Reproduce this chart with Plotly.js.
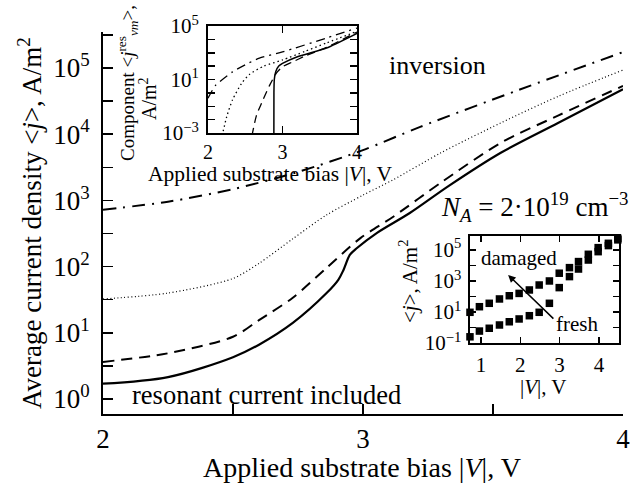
<!DOCTYPE html>
<html>
<head>
<meta charset="utf-8">
<script src="https://cdn.plot.ly/plotly-3.0.1.min.js"></script>
<style>html,body{margin:0;padding:0;background:#fff;}#chart{width:634px;height:489px;}</style>
</head>
<body>
<div id="chart"></div>
<script>
// ---------- main panel data (bias |V|, V ; current density A/m^2) ----------
const solidV   = [2.0, 2.25, 2.5, 2.6, 2.73, 2.86, 2.905, 2.925, 2.95, 2.977, 3.054, 3.18, 3.33, 3.53, 3.75, 4.0];
const solidJ   = [1.70, 2.14, 4.27, 6.61, 14.1, 39.8, 63.1, 89.1, 151, 191, 324, 646, 1660, 5250, 14800, 47900];
const dashedV  = [2.0, 2.25, 2.5, 2.6, 2.73, 2.86, 2.99, 3.115, 3.3, 3.53, 3.75, 4.0];
const dashedJ  = [3.63, 4.90, 8.71, 15.5, 33.9, 95.5, 269, 562, 1860, 7410, 19100, 53700];
const dottedV  = [2.0, 2.25, 2.5, 2.6, 2.73, 2.86, 3.0, 3.115, 3.3, 3.53, 3.75, 4.0];
const dottedJ  = [32.4, 39.8, 66.1, 112, 263, 603, 1200, 2040, 5250, 14800, 37200, 93300];
const dashdotV = [2.0, 2.25, 2.5, 2.75, 3.0, 3.22, 3.6, 4.0];
const dashdotJ = [724, 955, 1480, 2690, 5750, 12900, 46800, 174000];

// ---------- inset 1: resonant component ----------
const insSolidV   = [2.884, 2.885, 2.89, 2.91, 2.95, 3.0, 3.2, 3.59, 4.0];
const insSolidJ   = [3.16e-4, 1, 10, 39.8, 100, 158, 501, 2240, 28200];
const insDashedV  = [2.59, 2.65, 2.74, 2.83, 2.92, 3.0, 3.13, 3.3, 3.59, 4.0];
const insDashedJ  = [6.3e-4, 0.02, 0.316, 3.98, 31.6, 89.1, 200, 562, 2510, 35500];
const insDottedV  = [2.19, 2.25, 2.33, 2.45, 2.56, 2.75, 3.0, 3.3, 3.59, 4.0];
const insDottedJ  = [6.3e-4, 0.0158, 0.316, 5.01, 25.1, 100, 288, 1260, 5370, 39800];
const insDashdotV = [2.0, 2.1, 2.33, 2.5, 2.69, 3.0, 3.59, 4.0];
const insDashdotJ = [0.398, 3.55, 37.2, 126, 398, 1150, 12600, 70800];

// ---------- inset 2: measured ----------
const measV    = [0.72, 0.96, 1.21, 1.47, 1.72, 1.97, 2.23, 2.48, 2.74, 2.99, 3.25, 3.48, 3.73, 3.98, 4.24, 4.48];
const damagedJ = [9.55, 21.9, 36.3, 69.2, 112, 158, 263, 550, 1000, 3160, 7240, 17800, 52500, 141000, 269000, 562000];
const freshJ   = [0.251, 0.589, 0.891, 1.45, 2.34, 3.55, 5.75, 9.55, 36.3, 372, 1910, 5890, 22400, 77600, 191000, 447000];

// tick labels
const mainXTicks = [2, 2.5, 3, 3.5, 4];
const mainXText  = ['2', '', '3', '', '4'];
const mainYTicks = [1, 3.162, 10, 31.62, 100, 316.2, 1000, 3162, 1e4, 3.162e4, 1e5, 3.162e5];
const mainYText  = ['10<sup>0</sup>', '', '10<sup>1</sup>', '', '10<sup>2</sup>', '', '10<sup>3</sup>', '', '10<sup>4</sup>', '', '10<sup>5</sup>', ''];
const in1XTicks = [2, 3, 4];
const in1XText  = ['2', '3', '4'];
const in1YTicks = [1e-3, 1e-2, 1e-1, 1, 10, 100, 1e3, 1e4, 1e5];
const in1YText  = ['10<sup>\u22123</sup>', '', '', '', '10<sup>1</sup>', '', '', '', '10<sup>5</sup>'];
const in2XTicks = [1, 2, 3, 4];
const in2XText  = ['1', '2', '3', '4'];
const in2YTicks = [0.1, 1, 10, 100, 1e3, 1e4, 1e5];
const in2YText  = ['10<sup>\u22121</sup>', '', '10<sup>1</sup>', '', '10<sup>3</sup>', '', '10<sup>5</sup>'];

const FONT = '"Liberation Serif", "Times New Roman", serif';
const W = 634, H = 489, ML = 103, MR = 11, MT = 20, MB = 75;
const PW = W - ML - MR, PH = H - MT - MB;
const px = p => (p - ML) / PW;
const py = p => (H - MB - p) / PH;

const traces = [
  {x: dashdotV, y: dashdotJ, mode: 'lines', line: {color: '#000', width: 2, dash: '13px,7px,2px,7px', shape: 'spline', smoothing: 0.8}, xaxis: 'x', yaxis: 'y'},
  {x: dottedV, y: dottedJ, mode: 'lines', line: {color: '#000', width: 1.2, dash: '1px,2.5px', shape: 'spline', smoothing: 0.8}, xaxis: 'x', yaxis: 'y'},
  {x: dashedV, y: dashedJ, mode: 'lines', line: {color: '#000', width: 2, dash: '11px,7px', shape: 'spline', smoothing: 0.8}, xaxis: 'x', yaxis: 'y'},
  {x: solidV, y: solidJ, mode: 'lines', line: {color: '#000', width: 2.2, shape: 'spline', smoothing: 0.9}, xaxis: 'x', yaxis: 'y'},

  {x: insDashdotV, y: insDashdotJ, mode: 'lines', line: {color: '#000', width: 1.3, dash: '9px,5px,2px,5px', shape: 'spline', smoothing: 0.6}, xaxis: 'x2', yaxis: 'y2'},
  {x: insDottedV, y: insDottedJ, mode: 'lines', line: {color: '#000', width: 1.3, dash: '1.5px,3px', shape: 'spline', smoothing: 0.6}, xaxis: 'x2', yaxis: 'y2'},
  {x: insDashedV, y: insDashedJ, mode: 'lines', line: {color: '#000', width: 1.3, dash: '8px,5px', shape: 'spline', smoothing: 0.6}, xaxis: 'x2', yaxis: 'y2'},
  {x: insSolidV, y: insSolidJ, mode: 'lines', line: {color: '#000', width: 1.5, shape: 'spline', smoothing: 0.5}, xaxis: 'x2', yaxis: 'y2'},

  {x: measV, y: damagedJ, mode: 'markers', marker: {symbol: 'square', size: 7.5, color: '#000'}, cliponaxis: false, xaxis: 'x3', yaxis: 'y3'},
  {x: measV, y: freshJ, mode: 'markers', marker: {symbol: 'square', size: 7.5, color: '#000'}, cliponaxis: false, xaxis: 'x3', yaxis: 'y3'}
];

const axBase = {showgrid: false, zeroline: false, showline: true, linecolor: '#000', tickcolor: '#000', tickmode: 'array'};

function ann(o) { return Object.assign({showarrow: false, xanchor: 'center', yanchor: 'middle'}, o); }

const layout = {
  width: W, height: H,
  margin: {l: ML, r: MR, t: MT, b: MB},
  paper_bgcolor: '#fff', plot_bgcolor: '#fff',
  showlegend: false,
  font: {family: FONT, color: '#000', size: 26},
  xaxis: Object.assign({}, axBase, {domain: [0, 1], range: [2, 4], linewidth: 2, ticks: 'inside', ticklen: 10, tickwidth: 1.5,
    tickvals: mainXTicks, ticktext: mainXText, tickfont: {size: 27, family: FONT, color: '#000'}, ticklabelstandoff: 0, anchor: 'y'}),
  yaxis: Object.assign({}, axBase, {domain: [0, py(32)], type: 'log', range: [-0.227, 5.544], linewidth: 2, ticks: 'inside', ticklen: 10, tickwidth: 1.5,
    tickvals: mainYTicks, ticktext: mainYText, tickfont: {size: 27, family: FONT, color: '#000'}, ticklabelstandoff: 6, anchor: 'x'}),

  xaxis2: Object.assign({}, axBase, {domain: [px(208), px(357)], range: [2, 4], linewidth: 2, mirror: 'ticks', ticks: 'inside', ticklen: 7, tickwidth: 1.5,
    tickvals: in1XTicks, ticktext: in1XText, tickfont: {size: 20, family: FONT, color: '#000'}, ticklabelstandoff: 0, anchor: 'y2'}),
  yaxis2: Object.assign({}, axBase, {domain: [py(133), py(26)], type: 'log', range: [-3, 5], linewidth: 2, mirror: 'ticks', ticks: 'inside', ticklen: 7, tickwidth: 1.5,
    tickvals: in1YTicks, ticktext: in1YText, tickfont: {size: 21, family: FONT, color: '#000'}, ticklabelstandoff: 3, anchor: 'x2'}),

  xaxis3: Object.assign({}, axBase, {domain: [px(469.5), px(619)], range: [0.708, 4.51], linewidth: 2, mirror: 'ticks', ticks: 'inside', ticklen: 6, tickwidth: 1.3,
    tickvals: in2XTicks, ticktext: in2XText, tickfont: {size: 21, family: FONT, color: '#000'}, ticklabelstandoff: 2, anchor: 'y3'}),
  yaxis3: Object.assign({}, axBase, {domain: [py(343), py(236)], type: 'log', range: [-1, 5.9], linewidth: 2, mirror: 'ticks', ticks: 'inside', ticklen: 6, tickwidth: 1.3,
    tickvals: in2YTicks, ticktext: in2YText, tickfont: {size: 21, family: FONT, color: '#000'}, ticklabelstandoff: 2, anchor: 'x3'}),

  annotations: [
    ann({xref: 'paper', yref: 'paper', x: px(30), y: py(223), text: 'Average current density &lt;<i>j</i>&gt;, A/m<sup>2</sup>', textangle: -90, font: {size: 27}}),
    ann({xref: 'paper', yref: 'paper', x: px(362), y: py(467), text: 'Applied substrate bias |<i>V</i>|, V', font: {size: 28}}),
    ann({xref: 'x', yref: 'y', x: 3.285, y: 5.045, text: 'inversion', font: {size: 26}}),
    ann({xref: 'x', yref: 'y', x: 2.627, y: 0.06, text: 'resonant current included', font: {size: 26.5}}),
    ann({xref: 'x', yref: 'y', x: 3.66, y: 2.9, text: '<i>N<sub>A</sub></i> = 2\u00b710<sup>19</sup> cm<sup>\u22123</sup>', font: {size: 27}}),

    ann({xref: 'paper', yref: 'paper', x: px(127), y: py(83), text: 'Component &lt;<i>j</i><sup>res</sup><sub><i>vm</i></sub>&gt;,', textangle: -90, font: {size: 19}}),
    ann({xref: 'paper', yref: 'paper', x: px(148), y: py(99), text: 'A/m<sup>2</sup>', textangle: -90, font: {size: 20}}),
    ann({xref: 'paper', yref: 'paper', x: px(270), y: py(174), text: 'Applied substrate bias |<i>V</i>|, V', font: {size: 21.5}}),

    ann({xref: 'paper', yref: 'paper', x: px(408), y: py(281), text: '&lt;<i>j</i>&gt;, A/m<sup>2</sup>', textangle: -90, font: {size: 21}}),
    ann({xref: 'paper', yref: 'paper', x: px(543), y: py(387), text: '|<i>V</i>|, V', font: {size: 21}}),
    ann({xref: 'x3', yref: 'y3', x: 1.97, y: 4.48, text: 'damaged', font: {size: 21}}),
    ann({xref: 'x3', yref: 'y3', x: 3.44, y: 0.23, text: 'fresh', font: {size: 21}}),
    {xref: 'x3', yref: 'y3', x: 1.69, y: 3.39, axref: 'x3', ayref: 'y3', ax: 2.88, ay: 0.48, text: '', showarrow: true, arrowhead: 2, arrowsize: 1, arrowwidth: 1.5, arrowcolor: '#000'}
  ]
};

Plotly.newPlot('chart', traces, layout, {staticPlot: true, displayModeBar: false});
</script>
</body>
</html>
